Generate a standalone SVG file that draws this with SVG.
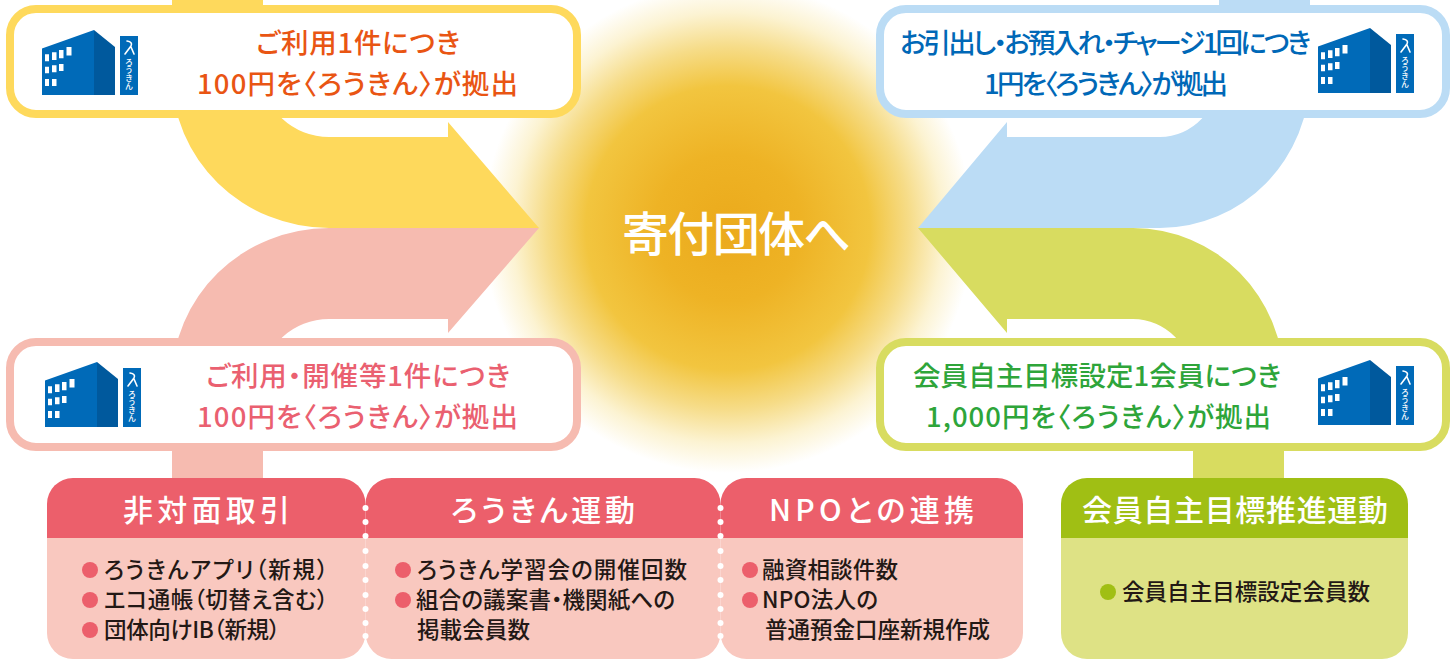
<svg xmlns="http://www.w3.org/2000/svg" width="1455" height="659" viewBox="0 0 1455 659">
<style>
text{font-family:"Noto Sans CJK JP","Noto Sans",sans-serif;font-weight:500;font-feature-settings:"palt"}
.box{fill:#fff;stroke-width:8}
.l{font-size:27.500px}
.h{font-size:30px;fill:#fff}
.b{font-size:22.500px;fill:#231815}
.y{fill:#fed95c}.p{fill:#f6bbb0}.s{fill:#bbdcf5}.g{fill:#d8dc60}
.hp{fill:#ec5f6b}.bp{fill:#f9c8bf}.hg{fill:#a0bf14}.bg{fill:#dee285}
</style>
<defs>
<radialGradient id="sun" gradientUnits="userSpaceOnUse" cx="728" cy="228" r="245">
<stop offset="0" stop-color="#ebaa1c"/>
<stop offset=".3" stop-color="#eeb325"/>
<stop offset=".58" stop-color="#f2c53f"/>
<stop offset=".74" stop-color="#f6dc88"/>
<stop offset=".88" stop-color="#fcf3d2"/>
<stop offset="1" stop-color="#fff"/>
</radialGradient>
<g id="icon">
<path d="M42 48.500L94 30V95H42Z" fill="#006ab8"/>
<path d="M94 30L115 47V95H94Z" fill="#00599d"/>
<g fill="#fff">
<path d="M45 54.300h4v7h-4zM52 52.300h4.500v7.700h-4.500zM59 50h4.500v8.300h-4.500zM66.500 47h5v8.500h-5z"/>
<path d="M45 66.700h4v6.600h-4zM52 65.300h4.500v7h-4.500zM59 64h4.500v7h-4.500z"/>
<path d="M45 79h4v7h-4zM52 79h4.500v7h-4.500z"/>
</g>
<rect x="120" y="36" width="18" height="59" fill="#006ab8"/>
<path d="M127 41q6 1 4 5l-6 8M131 47l3 7" fill="none" stroke="#fff" stroke-width="1.600" stroke-linecap="round"/>
<text x="129" y="58" fill="#fff" style="writing-mode:vertical-rl;font-size:8px">ろうきん</text>
</g>
</defs>

<circle cx="728" cy="228" r="245" fill="url(#sun)"/>

<g id="connectors">
<path class="y" d="M172 0H263V75A66 62 0 0 0 329 137H448V122L539 228H329A157 153 0 0 1 172 75Z"/>
<path class="p" d="M172 478H263V381A66 62 0 0 1 329 319H448V333L539 228H329A157 153 0 0 0 172 381Z"/>
<path class="s" d="M1310 0H1219V75A59 62 0 0 1 1160 137H1007V122L918 228H1160A150 153 0 0 0 1310 75Z"/>
<path class="g" d="M1193 478H1284V381A151 153 0 0 0 1133 228H918L1007 333V319H1133A60 62 0 0 1 1193 381Z"/>
</g>

<g id="node-yellow">
<rect class="box" x="10" y="9" width="567" height="105" rx="26" stroke="#fed95c"/>
<use href="#icon"/>
<text class="l" fill="#e95513" x="256" y="53" textLength="204">ご利用1件につき</text>
<text class="l" fill="#e95513" x="197" y="94" textLength="321">100円を〈ろうきん〉が拠出</text>
</g>
<g id="node-pink">
<rect class="box" x="10" y="342" width="567" height="105" rx="26" stroke="#f6bbb0"/>
<use href="#icon" x="3" y="332"/>
<text class="l" fill="#ea6070" x="206" y="386" textLength="304">ご利用・開催等1件につき</text>
<text class="l" fill="#ea6070" x="197" y="427" textLength="321">100円を〈ろうきん〉が拠出</text>
</g>
<g id="node-blue">
<rect class="box" x="880" y="9" width="566" height="105" rx="26" stroke="#bbdcf5"/>
<use href="#icon" x="1276" y="-2"/>
<text class="l" fill="#0068b7" x="900" y="53" textLength="411">お引出し・お預入れ・チャージ1回につき</text>
<text class="l" fill="#0068b7" x="984" y="94" textLength="244">1円を〈ろうきん〉が拠出</text>
</g>
<g id="node-green">
<rect class="box" x="880" y="342" width="566" height="105" rx="26" stroke="#d8dc60"/>
<use href="#icon" x="1276" y="330"/>
<text class="l" fill="#2ea53a" x="913" y="386" textLength="368">会員自主目標設定1会員につき</text>
<text class="l" fill="#2ea53a" x="926" y="427" textLength="345">1,000円を〈ろうきん〉が拠出</text>
</g>

<g id="panel-hitaimen">
<path class="bp" d="M47 538H365.500V633A26 26 0 0 1 339.500 659H73A26 26 0 0 1 47 633Z"/>
<path class="hp" d="M47 538V504A26 26 0 0 1 73 478H339.500A26 26 0 0 1 365.500 504V538Z"/>
<text class="h" x="123" y="521" textLength="167">非対面取引</text>
<circle class="hp" cx="90" cy="570" r="8"/><circle class="hp" cx="90" cy="600" r="8"/><circle class="hp" cx="90" cy="630" r="8"/>
<text class="b" x="104" y="578" textLength="224">ろうきんアプリ（新規）</text>
<text class="b" x="104" y="608" textLength="224">エコ通帳（切替え含む）</text>
<text class="b" x="104" y="638" textLength="176">団体向けIB（新規）</text>
</g>
<g id="panel-rokin">
<path class="bp" d="M365.500 538H720.500V633A26 26 0 0 1 694.500 659H391.500A26 26 0 0 1 365.500 633Z"/>
<path class="hp" d="M365.500 538V504A26 26 0 0 1 391.500 478H694.500A26 26 0 0 1 720.500 504V538Z"/>
<text class="h" x="451" y="521" textLength="184">ろうきん運動</text>
<circle class="hp" cx="403" cy="570" r="8"/><circle class="hp" cx="403" cy="600" r="8"/>
<text class="b" x="417" y="578" textLength="270">ろうきん学習会の開催回数</text>
<text class="b" x="416" y="608" textLength="259">組合の議案書・機関紙への</text>
<text class="b" x="417" y="638" textLength="113">掲載会員数</text>
</g>
<g id="panel-npo">
<path class="bp" d="M720.500 538H1023V633A26 26 0 0 1 997 659H746.500A26 26 0 0 1 720.500 633Z"/>
<path class="hp" d="M720.500 538V504A26 26 0 0 1 746.500 478H997A26 26 0 0 1 1023 504V538Z"/>
<text class="h" x="769" y="521" textLength="205">NPOとの連携</text>
<circle class="hp" cx="750" cy="570" r="8"/><circle class="hp" cx="750" cy="600" r="8"/>
<text class="b" x="762" y="578" textLength="136">融資相談件数</text>
<text class="b" x="762" y="608" textLength="116">NPO法人の</text>
<text class="b" x="765" y="638" textLength="225">普通預金口座新規作成</text>
</g>
<g id="panel-member">
<path class="bg" d="M1061 538H1408V633A26 26 0 0 1 1382 659H1087A26 26 0 0 1 1061 633Z"/>
<path class="hg" d="M1061 538V504A26 26 0 0 1 1087 478H1382A26 26 0 0 1 1408 504V538Z"/>
<text class="h" x="1082" y="521" textLength="306">会員自主目標推進運動</text>
<circle class="hg" cx="1108" cy="592" r="8"/>
<text class="b" x="1122" y="600" textLength="248">会員自主目標設定会員数</text>
</g>

<g id="dividers" fill="#fff">
<g id="dots-a"><circle cx="365.500" cy="508" r="3"/><circle cx="365.500" cy="522" r="3"/><circle cx="365.500" cy="536" r="3"/><circle cx="365.500" cy="551" r="3"/><circle cx="365.500" cy="566" r="3"/><circle cx="365.500" cy="580" r="3"/><circle cx="365.500" cy="595" r="3"/><circle cx="365.500" cy="609" r="3"/><circle cx="365.500" cy="623" r="3"/><circle cx="365.500" cy="636" r="3"/></g>
<use href="#dots-a" x="355"/>
</g>

<g id="center">
<text x="622" y="251" font-size="47" fill="#fff" textLength="229">寄付団体へ</text>
</g>
</svg>
